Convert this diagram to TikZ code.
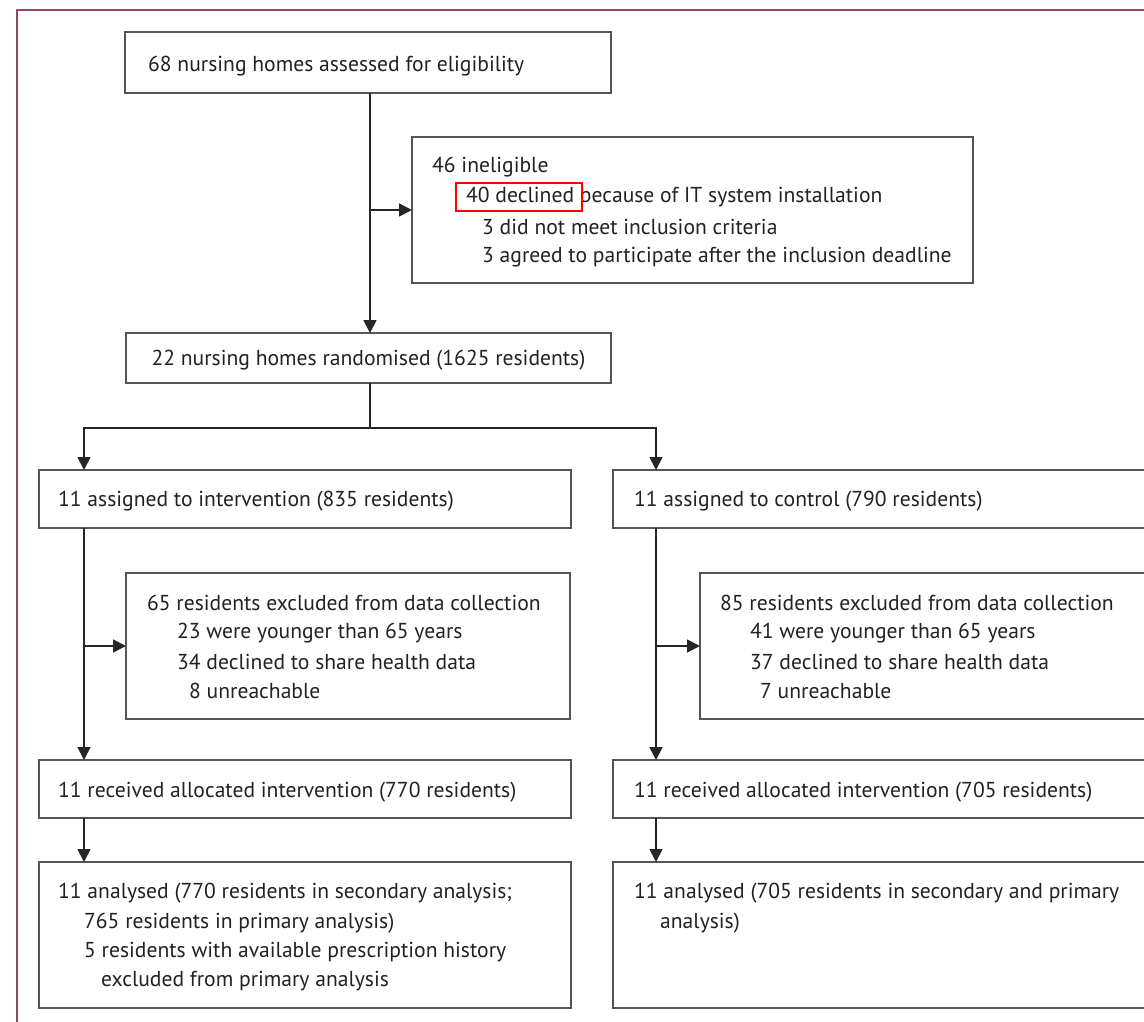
\documentclass[tikz,border=0pt]{standalone}
\usepackage{fontspec}
\setmainfont{PT Sans}
\usetikzlibrary{arrows.meta,calc}
\definecolor{frame}{HTML}{8E4767}
\definecolor{boxline}{HTML}{555555}
\definecolor{txtc}{HTML}{222222}
\begin{document}
\begin{tikzpicture}[x=1pt,y=-1pt,
  box/.style={draw=boxline,line width=1.7pt,fill=white,anchor=north west,inner sep=0pt,outer sep=0pt},
  txt/.style={anchor=west,inner sep=0pt,text=txtc,font=\fontsize{21.6}{26}\selectfont},
  arr/.style={draw=black!85,line width=1.8pt,-{Triangle[length=13pt,width=13pt]}},
  ln/.style={draw=black!85,line width=1.8pt}]
\clip (0,0) rectangle (1144,1022);
\fill[white] (0,0) rectangle (1144,1022);
\draw[frame,line width=2pt] (17,10) rectangle (1180,1060);
% boxes
\node[box,minimum width=486pt,minimum height=61pt] (A) at (125,32) {};
\node[box,minimum width=561pt,minimum height=146pt] (B) at (412,137) {};
\node[box,minimum width=485pt,minimum height=50pt] (C) at (126,333) {};
\node[box,minimum width=532pt,minimum height=58pt] (D) at (39,470) {};
\node[box,minimum width=560pt,minimum height=58pt] (E) at (613,470) {};
\node[box,minimum width=444pt,minimum height=146pt] (F) at (126,573) {};
\node[box,minimum width=480pt,minimum height=146pt] (G) at (700,573) {};
\node[box,minimum width=532pt,minimum height=58pt] (H) at (39,760) {};
\node[box,minimum width=560pt,minimum height=58pt] (I) at (613,760) {};
\node[box,minimum width=532pt,minimum height=146pt] (J) at (39,862) {};
\node[box,minimum width=560pt,minimum height=146pt] (K) at (613,862) {};
% texts
\node[txt] (At) at (148,66) {68 nursing homes assessed for eligibility};
\node[txt] (Bt1) at (432,167) {46 ineligible};
\node[txt] (Bt2) at (466,197) {40 declined because of IT system installation};
\node[txt] (Bt3) at (482,227) {3 did not meet inclusion criteria};
\node[txt] (Bt4) at (482,257) {3 agreed to participate after the inclusion deadline};
\node[txt,anchor=center] (Ct) at ($(C.center)+(0,2)$) {22 nursing homes randomised (1625 residents)};
\node[txt] (Dt) at (58,501) {11 assigned to intervention (835 residents)};
\node[txt] (Et) at (634,501) {11 assigned to control (790 residents)};
\node[txt] (Ft1) at (147,603) {65 residents excluded from data collection};
\node[txt] (Ft2) at (177,633) {23 were younger than 65 years};
\node[txt] (Ft3) at (177,662) {34 declined to share health data};
\node[txt] (Ft4) at (189,691) {8 unreachable};
\node[txt] (Gt1) at (720,603) {85 residents excluded from data collection};
\node[txt] (Gt2) at (750,633) {41 were younger than 65 years};
\node[txt] (Gt3) at (750,662) {37 declined to share health data};
\node[txt] (Gt4) at (760,691) {7 unreachable};
\node[txt] (Ht) at (58,792) {11 received allocated intervention (770 residents)};
\node[txt] (It) at (634,792) {11 received allocated intervention (705 residents)};
\node[txt] (Jt1) at (58,893) {11 analysed (770 residents in secondary analysis;};
\node[txt] (Jt2) at (84,923) {765 residents in primary analysis)};
\node[txt] (Jt3) at (84,952) {5 residents with available prescription history};
\node[txt] (Jt4) at (101,981) {excluded from primary analysis};
\node[txt] (Kt1) at (634,893) {11 analysed (705 residents in secondary and primary};
\node[txt] (Kt2) at (660,923) {analysis)};
% highlight
\node[draw=red,line width=2pt,inner sep=0pt,minimum width=126pt,minimum height=28pt,anchor=north west] (hl) at (455,182) {};
% connectors
\coordinate (a0) at ($(A.south)+(2,0)$);
\draw[arr] (a0) -- (a0 |- C.north);
\coordinate (b0) at (a0 |- B.west);
\draw[arr] (b0) -- (B.west);
\coordinate (c0) at ($(C.south)+(1.5,0)$);
\coordinate (split) at ($(c0)+(0,45)$);
\coordinate (dl) at ($(D.north west)+(45,0)$);
\coordinate (el) at ($(E.north west)+(43,0)$);
\draw[ln] (c0) -- (split);
\draw[arr] (split) -| (dl);
\draw[arr] (split) -| (el);
\coordinate (dd) at ($(D.south west)+(45,0)$);
\coordinate (ed) at ($(E.south west)+(43,0)$);
\draw[arr] (dd) -- (dd |- H.north);
\draw[arr] (ed) -- (ed |- I.north);
\draw[arr] (dd |- F.west) -- (F.west);
\draw[arr] (ed |- G.west) -- (G.west);
\coordinate (hd) at ($(H.south west)+(45,0)$);
\coordinate (id) at ($(I.south west)+(43,0)$);
\draw[arr] (hd) -- (hd |- J.north);
\draw[arr] (id) -- (id |- K.north);
\end{tikzpicture}
\end{document}
